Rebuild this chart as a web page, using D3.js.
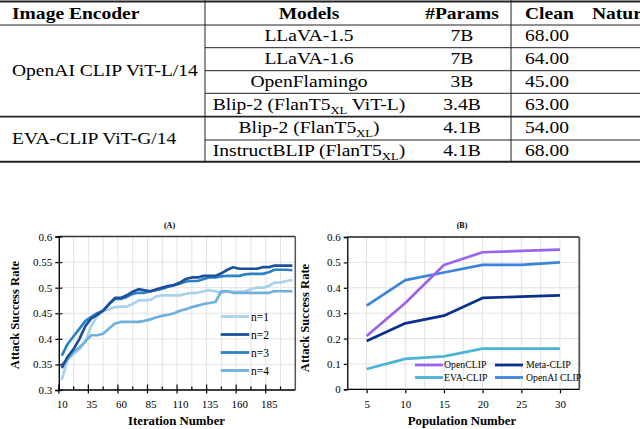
<!DOCTYPE html>
<html><head><meta charset="utf-8">
<script src="https://cdn.jsdelivr.net/npm/d3@7"></script>
<style>
body{margin:0;background:#fff;overflow:hidden}
svg{display:block}
text{font-family:"Liberation Serif","Times New Roman",serif;fill:#000}
</style>
</head><body>
<svg id="c" width="640" height="429"></svg>
<script>
// ---------- TABLE DATA ----------
const tableHeaders = ["Image Encoder", "Models", "#Params", "Clean", "Natural"];
const encoders = ["OpenAI CLIP ViT-L/14", "EVA-CLIP ViT-G/14"];
const encoderRowSpans = [4, 2];
const models = ["LLaVA-1.5", "LLaVA-1.6", "OpenFlamingo", "Blip-2 (FlanT5_XL ViT-L)", "Blip-2 (FlanT5_XL)", "InstructBLIP (FlanT5_XL)"];
const params = ["7B", "7B", "3B", "3.4B", "4.1B", "4.1B"];
const clean = ["68.00", "64.00", "45.00", "63.00", "54.00", "68.00"];

// ---------- CHART A DATA ----------
const iterations = [10,15,20,25,30,35,40,45,50,55,60,65,70,75,80,85,90,95,100,105,110,115,120,125,130,135,140,145,150,155,160,165,170,175,180,185,190,195,200,205];
const n1 = [0.32,0.36,0.37,0.38,0.395,0.425,0.445,0.455,0.458,0.462,0.463,0.463,0.468,0.475,0.475,0.476,0.483,0.485,0.485,0.485,0.485,0.488,0.49,0.49,0.493,0.495,0.493,0.49,0.492,0.492,0.492,0.493,0.497,0.5,0.5,0.503,0.51,0.51,0.513,0.515];
const n2 = [0.343,0.365,0.38,0.40,0.425,0.44,0.447,0.455,0.468,0.48,0.48,0.485,0.492,0.497,0.495,0.493,0.497,0.50,0.503,0.505,0.51,0.517,0.52,0.52,0.523,0.523,0.523,0.528,0.535,0.54,0.537,0.537,0.537,0.537,0.54,0.54,0.543,0.543,0.543,0.543];
const n3 = [0.367,0.39,0.405,0.42,0.435,0.443,0.45,0.455,0.468,0.478,0.478,0.482,0.488,0.49,0.49,0.493,0.495,0.498,0.502,0.505,0.508,0.512,0.513,0.513,0.517,0.52,0.52,0.522,0.523,0.523,0.523,0.526,0.527,0.527,0.527,0.53,0.535,0.535,0.535,0.534];
const n4 = [0.35,0.36,0.375,0.383,0.395,0.407,0.407,0.41,0.42,0.43,0.433,0.433,0.433,0.433,0.435,0.438,0.442,0.445,0.447,0.45,0.455,0.458,0.462,0.465,0.468,0.47,0.472,0.493,0.493,0.49,0.49,0.49,0.49,0.49,0.49,0.49,0.493,0.493,0.493,0.493];
const seriesNamesA = ["n=1", "n=2", "n=3", "n=4"];
const xTickLabelsA = [10,35,60,85,110,135,160,185];
const yTicksA = [0.3,0.35,0.4,0.45,0.5,0.55,0.6];

// ---------- CHART B DATA ----------
const population = [5,10,15,20,25,30];
const openCLIP = [0.21,0.34,0.49,0.54,0.545,0.55];
const metaCLIP = [0.19,0.26,0.29,0.36,0.365,0.37];
const evaCLIP = [0.08,0.12,0.13,0.16,0.16,0.16];
const openaiCLIP = [0.33,0.43,0.46,0.49,0.49,0.50];
const seriesNamesB = ["OpenCLIP", "Meta-CLIP", "EVA-CLIP", "OpenAI CLIP"];
const yTicksB = [0,0.1,0.2,0.3,0.4,0.5,0.6];

const svg = d3.select("#c");

// ================= TABLE =================
const T = svg.append("g");
const fs = 17;
const sx = 1.15;
const rowLines = [25, 47.7, 70.7, 93.3, 116.7, 140, 161.7];
const colX = {enc: 12, model: 309, params: 462, clean: 525, nat: 592};
const vline1 = 205, vline2 = 511;

function addRich(g, str, x, y, anchor, bold) {
  const t = g.append("text").attr("transform", `translate(${x},${y}) scale(${sx},1)`)
    .attr("text-anchor", anchor).attr("font-size", fs)
    .attr("font-weight", bold ? "bold" : "normal");
  const parts = str.split(/_XL/);
  parts.forEach((p, i) => {
    if (p.length) {
      const ts = t.append("tspan").text(p);
      if (i > 0) ts.attr("dy", -4);
    }
    if (i < parts.length - 1) {
      t.append("tspan").attr("font-size", 11).attr("dy", 4).text("XL");
    }
  });
  return t;
}

// rules
T.append("line").attr("x1",0).attr("x2",640).attr("y1",1.5).attr("y2",1.5).attr("stroke","#222").attr("stroke-width",2);
T.append("line").attr("x1",0).attr("x2",640).attr("y1",rowLines[0]).attr("y2",rowLines[0]).attr("stroke","#222").attr("stroke-width",1);
[1,2,3,5].forEach(i => T.append("line").attr("x1",vline1).attr("x2",640).attr("y1",rowLines[i]).attr("y2",rowLines[i]).attr("stroke","#222").attr("stroke-width",1));
T.append("line").attr("x1",0).attr("x2",640).attr("y1",rowLines[4]).attr("y2",rowLines[4]).attr("stroke","#222").attr("stroke-width",1.8);
T.append("line").attr("x1",0).attr("x2",640).attr("y1",rowLines[6]).attr("y2",rowLines[6]).attr("stroke","#222").attr("stroke-width",2);
[vline1, vline2].forEach(x => T.append("line").attr("x1",x).attr("x2",x).attr("y1",0).attr("y2",rowLines[6]).attr("stroke","#222").attr("stroke-width",1));

// header
const hy = 19;
addRich(T, tableHeaders[0], colX.enc, hy, "start", true);
addRich(T, tableHeaders[1], colX.model, hy, "middle", true);
addRich(T, tableHeaders[2], colX.params, hy, "middle", true);
addRich(T, tableHeaders[3], colX.clean, hy, "start", true);
addRich(T, tableHeaders[4], colX.nat, hy, "start", true);

models.forEach((m, i) => {
  const cy = (rowLines[i] + rowLines[i+1]) / 2 + 5;
  addRich(T, m, colX.model, cy, "middle", false);
  addRich(T, params[i], colX.params, cy, "middle", false);
  addRich(T, clean[i], colX.clean, cy, "start", false);
});
let startRow = 0;
encoders.forEach((e, k) => {
  const top = rowLines[startRow], bot = rowLines[startRow + encoderRowSpans[k]];
  addRich(T, e, colX.enc, (top + bot) / 2 + 5, "start", false);
  startRow += encoderRowSpans[k];
});

// ================= CHART A =================
const A = svg.append("g");
const xA = d3.scaleLinear().domain([7.5, 207.5]).range([58.8, 295.3]);
const yA = d3.scaleLinear().domain([0.3, 0.6]).range([390, 236.5]);
const gridColor = "#e2e2e2";
const tickFs = 11;

d3.range(7.5, 207.6, 12.5).forEach(v => {
  A.append("line").attr("x1", xA(v)).attr("x2", xA(v)).attr("y1", yA(0.3)).attr("y2", yA(0.6))
   .attr("stroke", gridColor).attr("stroke-width", 1);
});
yTicksA.forEach(v => {
  A.append("line").attr("x1", xA(7.5)).attr("x2", xA(207.5)).attr("y1", yA(v)).attr("y2", yA(v))
   .attr("stroke", gridColor).attr("stroke-width", 1);
});
A.append("line").attr("x1", xA(7.5)).attr("x2", xA(207.5)).attr("y1", yA(0.6)).attr("y2", yA(0.6)).attr("stroke", "#333").attr("stroke-width", 1.3);
A.append("line").attr("x1", xA(207.5)).attr("x2", xA(207.5)).attr("y1", yA(0.6)).attr("y2", yA(0.3)).attr("stroke", "#555").attr("stroke-width", 1.5);

const colorsA = ["#a9d2ec", "#1c4f9e", "#2b83c3", "#6fb0de"];
const dataA = [n1, n2, n3, n4];
const lineA = d3.line().x(d => xA(d[0])).y(d => yA(d[1]));
[0, 3, 2, 1].forEach(k => {
  A.append("path").datum(iterations.map((it, i) => [it, dataA[k][i]]))
   .attr("d", lineA).attr("fill", "none").attr("stroke", colorsA[k]).attr("stroke-width", 2.7)
   .attr("stroke-linejoin", "round");
});

const axA_y = A.append("g").attr("transform", `translate(${xA(7.5)},0)`)
  .call(d3.axisLeft(yA).tickValues(yTicksA).tickSize(3.5).tickPadding(3).tickFormat(d3.format("~g")));
axA_y.select(".domain").attr("stroke", "#000").attr("stroke-width", 1.3);
axA_y.selectAll(".tick line").attr("x2", -3.5).attr("x1", 3.5).attr("stroke", "#000").attr("stroke-width", 1.2);
axA_y.selectAll("text").attr("font-size", tickFs).attr("font-family", "Liberation Serif");

const axA_x = A.append("g").attr("transform", `translate(0,${yA(0.3)})`)
  .call(d3.axisBottom(xA).tickValues(xTickLabelsA).tickSize(0).tickPadding(10));
axA_x.select(".domain").remove();
axA_x.selectAll("text").attr("font-size", tickFs).attr("font-family", "Liberation Serif");
A.append("line").attr("x1", xA(7.5)).attr("x2", xA(207.5)).attr("y1", yA(0.3)).attr("y2", yA(0.3)).attr("stroke", "#000").attr("stroke-width", 1.3);
xTickLabelsA.forEach(v => {
  A.append("line").attr("x1", xA(v - 2.5)).attr("x2", xA(v - 2.5)).attr("y1", yA(0.3) - 5.5).attr("y2", yA(0.3) + 3.5).attr("stroke", "#000").attr("stroke-width", 1.2);
  A.append("line").attr("x1", xA(v + 10)).attr("x2", xA(v + 10)).attr("y1", yA(0.3) - 3.5).attr("y2", yA(0.3)).attr("stroke", "#000").attr("stroke-width", 1.2);
});
A.append("line").attr("x1", xA(20)).attr("x2", xA(20)).attr("y1", yA(0.3) - 3.5).attr("y2", yA(0.3)).attr("stroke", "#000").attr("stroke-width", 1.2);

const legYA = [316.5, 334.5, 352.5, 370.5];
seriesNamesA.forEach((nm, k) => {
  A.append("line").attr("x1", 220.7).attr("x2", 249.3).attr("y1", legYA[k]).attr("y2", legYA[k])
   .attr("stroke", colorsA[k]).attr("stroke-width", 2.8);
  A.append("text").attr("x", 251).attr("y", legYA[k]).attr("dy", "0.35em").attr("font-size", 11.5).text(nm);
});

A.append("text").attr("x", 169.5).attr("y", 225.5).attr("dy", "0.35em").attr("text-anchor", "middle")
 .attr("font-size", 8).attr("font-weight", "bold").text("(A)");
A.append("text").attr("x", 176.5).attr("y", 421).attr("dy", "0.35em").attr("text-anchor", "middle")
 .attr("font-size", 12.8).attr("font-weight", "bold").text("Iteration Number");
A.append("text").attr("transform", "translate(15,315) rotate(-90)").attr("dy", "0.35em").attr("text-anchor", "middle")
 .attr("font-size", 12.6).attr("font-weight", "bold").text("Attack Success Rate");

// ================= CHART B =================
const B = svg.append("g");
const xB = d3.scaleLinear().domain([2.5, 32.5]).range([347.3, 579.3]);
const yB = d3.scaleLinear().domain([0, 0.6]).range([389.3, 237]);

d3.range(2.5, 32.6, 2.5).forEach(v => {
  B.append("line").attr("x1", xB(v)).attr("x2", xB(v)).attr("y1", yB(0)).attr("y2", yB(0.6))
   .attr("stroke", gridColor).attr("stroke-width", 1);
});
yTicksB.forEach(v => {
  B.append("line").attr("x1", xB(2.5)).attr("x2", xB(32.5)).attr("y1", yB(v)).attr("y2", yB(v))
   .attr("stroke", gridColor).attr("stroke-width", 1);
});
B.append("line").attr("x1", xB(2.5)).attr("x2", xB(32.5)).attr("y1", yB(0.6)).attr("y2", yB(0.6)).attr("stroke", "#222").attr("stroke-width", 1.3);
B.append("line").attr("x1", xB(32.5)).attr("x2", xB(32.5)).attr("y1", yB(0.6)).attr("y2", yB(0)).attr("stroke", "#555").attr("stroke-width", 1.8);

const colorsB = ["#9b63f0", "#0b2f8f", "#4bb3d8", "#3b84de"];
const dataB = [openCLIP, metaCLIP, evaCLIP, openaiCLIP];
const lineB = d3.line().x(d => xB(d[0])).y(d => yB(d[1]));
[2, 1, 3, 0].forEach(k => {
  B.append("path").datum(population.map((p, i) => [p, dataB[k][i]]))
   .attr("d", lineB).attr("fill", "none").attr("stroke", colorsB[k]).attr("stroke-width", 2.7)
   .attr("stroke-linejoin", "round");
});

const axB_y = B.append("g").attr("transform", `translate(${xB(2.5)},0)`)
  .call(d3.axisLeft(yB).tickValues(yTicksB).tickSize(3.5).tickPadding(3).tickFormat(d3.format("~g")));
axB_y.select(".domain").attr("stroke", "#000").attr("stroke-width", 1.3);
axB_y.selectAll(".tick line").attr("stroke", "#000").attr("stroke-width", 1.2);
axB_y.selectAll("text").attr("font-size", tickFs).attr("font-family", "Liberation Serif");

const axB_x = B.append("g").attr("transform", `translate(0,${yB(0)})`)
  .call(d3.axisBottom(xB).tickValues(population).tickSize(4).tickPadding(7));
axB_x.select(".domain").remove();
axB_x.selectAll(".tick line").attr("stroke", "#000").attr("stroke-width", 1.2);
axB_x.selectAll("text").attr("font-size", tickFs).attr("font-family", "Liberation Serif");
B.append("line").attr("x1", xB(2.5)).attr("x2", xB(32.5)).attr("y1", yB(0)).attr("y2", yB(0)).attr("stroke", "#000").attr("stroke-width", 1.3);

const legB = [[415, 365, 444], [495, 365, 526], [415, 377.5, 444], [495, 377.5, 526]];
seriesNamesB.forEach((nm, k) => {
  const [lx, ly, tx] = legB[k];
  B.append("line").attr("x1", lx).attr("x2", lx + 28).attr("y1", ly).attr("y2", ly)
   .attr("stroke", colorsB[k]).attr("stroke-width", 2.8);
  B.append("text").attr("x", tx).attr("y", ly).attr("dy", "0.35em").attr("font-size", 9.8).text(nm);
});

B.append("text").attr("x", 462).attr("y", 225.5).attr("dy", "0.35em").attr("text-anchor", "middle")
 .attr("font-size", 8).attr("font-weight", "bold").text("(B)");
B.append("text").attr("x", 462).attr("y", 421).attr("dy", "0.35em").attr("text-anchor", "middle")
 .attr("font-size", 12.8).attr("font-weight", "bold").text("Population Number");
B.append("text").attr("transform", "translate(305,318) rotate(-90)").attr("dy", "0.35em").attr("text-anchor", "middle")
 .attr("font-size", 12.6).attr("font-weight", "bold").text("Attack Success Rate");
</script>
</body></html>
